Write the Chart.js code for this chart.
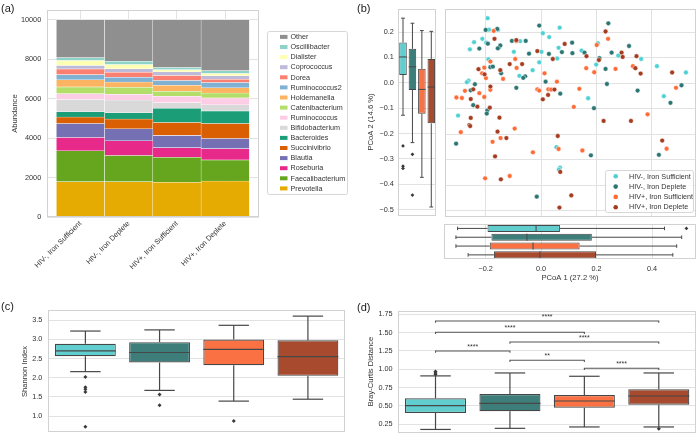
<!DOCTYPE html>
<html>
<head>
<meta charset="utf-8">
<script src="https://cdn.jsdelivr.net/npm/chart.js@4.4.1/dist/chart.umd.min.js"></script>
<style>
  html, body { margin:0; padding:0; background:#ffffff; }
  #fig { position:relative; width:700px; height:446px; overflow:hidden; background:#fff; }
  #fig canvas { position:absolute; }
  .pl { position:absolute; font-family:'Liberation Sans', Arial, sans-serif; font-size:11px; line-height:11px; color:#1a1a1a; }
</style>
</head>
<body>
<div id="fig">
  <canvas id="cA" width="350" height="300" style="left:0px;top:0px;width:350px;height:300px"></canvas>
  <canvas id="cBL" width="85" height="225" style="left:355px;top:0px;width:85px;height:225px"></canvas>
  <canvas id="cBM" width="260" height="225" style="left:440px;top:0px;width:260px;height:225px"></canvas>
  <canvas id="cBB" width="260" height="70" style="left:440px;top:220px;width:260px;height:70px"></canvas>
  <canvas id="cC" width="350" height="146" style="left:0px;top:300px;width:350px;height:146px"></canvas>
  <canvas id="cD" width="350" height="146" style="left:350px;top:300px;width:350px;height:146px"></canvas>
  <div class="pl" style="left:1px;top:3px">(a)</div>
  <div class="pl" style="left:357px;top:3px">(b)</div>
  <div class="pl" style="left:1px;top:301px">(c)</div>
  <div class="pl" style="left:357px;top:302px">(d)</div>
</div>
<script>
// ---------------- DATA ----------------
const groups = ['HIV-, Iron Sufficient', 'HIV-, Iron Deplete', 'HIV+, Iron Sufficient', 'HIV+, Iron Deplete'];

// (a) stacked abundance
const taxa = ['Prevotella','Faecalibacterium','Roseburia','Blautia','Succinivibrio','Bacteroides','Bifidobacterium','Ruminococcus','Catenibacterium','Holdemanella','Ruminococcus2','Dorea','Coprococcus','Dialister','Oscillibacter','Other'];
const taxaColors = ['#e6ab02','#66a61e','#e7298a','#7570b3','#d95f02','#1b9e77','#d9d9d9','#fccde5','#b3de69','#fdb462','#80b1d3','#fb8072','#bebada','#ffffb3','#8dd3c7','#8f8f8f'];
const abundNegSuff = [1800,1565,670,710,330,260,620,300,340,360,260,290,170,260,140,1925];
const abundNegDepl = [1800,1320,750,610,490,320,640,300,350,260,250,250,170,220,160,2110];
const abundPosSuff = [1770,1260,490,620,650,720,290,330,250,300,240,250,190,110,110,2420];
const abundPosDepl = [1830,1070,570,510,760,640,310,350,250,260,270,170,170,110,150,2580];
const abundTicks = [0,2000,4000,6000,8000,10000];

// (b) PCoA scatter
const pcoaNegSuff = [[-0.194,0.255],[-0.156,0.209],[-0.189,0.210],[0.067,0.218],[0.006,0.196],[0.029,0.181],[-0.213,0.174],[-0.076,0.165],[-0.243,0.161],[-0.199,0.159],[-0.258,0.133],[-0.099,0.123],[0.001,0.123],[0.063,0.139],[0.058,0.097],[-0.007,0.082],[-0.191,0.094],[-0.031,0.051],[-0.079,0.029],[-0.263,0.010],[-0.269,0.004],[0.205,0.157],[0.146,0.128],[0.279,0.108],[0.362,0.095],[0.199,0.073],[0.419,0.067],[0.524,0.042],[0.170,-0.059],[0.444,-0.051],[-0.301,-0.127],[0.055,-0.251],[0.068,-0.331],[0.064,-0.339],[-0.152,0.140]];
const pcoaNegDepl = [[-0.159,0.213],[-0.201,0.209],[-0.007,0.226],[-0.106,0.166],[-0.056,0.166],[-0.193,0.155],[-0.148,0.148],[-0.157,0.137],[-0.224,0.136],[-0.044,0.116],[0.028,0.115],[0.075,0.122],[0.112,0.159],[-0.184,0.063],[-0.175,0.065],[-0.145,0.039],[-0.058,0.027],[-0.065,0.021],[0.016,0.006],[-0.240,-0.004],[-0.090,-0.018],[0.069,-0.041],[-0.246,-0.086],[-0.195,-0.107],[-0.197,-0.119],[0.243,0.235],[0.113,0.118],[0.157,0.120],[0.211,0.098],[0.255,0.120],[0.318,0.146],[0.233,0.056],[0.238,-0.003],[0.508,-0.008],[0.349,-0.029],[0.468,-0.077],[0.191,-0.098],[-0.308,-0.237],[-0.016,-0.445],[0.180,-0.283],[0.426,-0.281],[-0.255,-0.028]];
const pcoaPosSuff = [[-0.172,0.205],[-0.090,0.165],[-0.094,0.095],[-0.184,0.085],[-0.089,0.060],[-0.206,0.061],[-0.214,0.039],[-0.200,0.020],[-0.138,0.017],[0.012,0.039],[0.057,0.006],[-0.014,-0.024],[-0.007,-0.029],[0.026,-0.024],[0.036,-0.025],[-0.276,-0.030],[-0.307,-0.056],[-0.287,-0.058],[-0.224,-0.039],[-0.206,-0.054],[-0.184,-0.026],[0.242,0.174],[0.201,0.150],[0.163,0.059],[0.269,0.056],[0.332,0.067],[0.192,0.043],[0.138,-0.022],[0.488,-0.018],[0.118,-0.093],[0.385,-0.122],[-0.291,-0.192],[-0.096,-0.178],[-0.176,-0.230],[-0.147,-0.215],[-0.030,-0.271],[0.063,-0.258],[-0.203,-0.373],[-0.114,-0.364],[0.149,-0.264],[0.454,-0.257]];
const pcoaPosDepl = [[-0.169,0.174],[-0.090,0.169],[-0.014,0.126],[0.085,0.154],[0.042,0.095],[-0.069,0.075],[-0.114,0.075],[-0.227,0.055],[-0.148,0.051],[-0.205,0.035],[0.048,-0.025],[0.025,-0.046],[0.006,-0.063],[-0.246,-0.024],[-0.255,-0.062],[-0.184,-0.013],[-0.231,-0.092],[-0.186,-0.096],[0.233,0.203],[0.164,0.106],[0.209,0.091],[0.291,0.120],[0.295,0.103],[0.345,0.106],[0.341,0.059],[0.360,0.038],[0.474,0.042],[-0.255,-0.136],[-0.151,-0.135],[-0.260,-0.164],[-0.257,-0.168],[-0.158,-0.190],[-0.126,-0.215],[-0.167,-0.287],[0.060,-0.207],[0.069,-0.348],[-0.146,-0.377],[0.109,-0.440],[0.066,-0.488],[0.226,-0.148],[0.325,-0.148],[0.438,-0.225]];
const pcoa1Ticks = [-0.2, 0.0, 0.2, 0.4];
const pcoa2Ticks = [0.2, 0.1, 0.0, -0.1, -0.2, -0.3, -0.4, -0.5];

// (b) marginal box plots
const pc2Low = [-0.128, -0.236, -0.373, -0.490];
const pc2Q1 = [0.031, -0.028, -0.122, -0.160];
const pc2Med = [0.102, 0.063, -0.026, -0.017];
const pc2Q3 = [0.159, 0.134, 0.055, 0.094];
const pc2High = [0.255, 0.235, 0.206, 0.203];
const pc2Out = [[-0.249, -0.329, -0.338], [-0.282, -0.443], [], []];
const pc1Low = [-0.301, -0.307, -0.307, -0.263];
const pc1Q1 = [-0.193, -0.179, -0.185, -0.170];
const pc1Med = [-0.018, -0.051, -0.029, -0.004];
const pc1Q3 = [0.068, 0.183, 0.139, 0.198];
const pc1High = [0.445, 0.507, 0.489, 0.475];
const pc1Out = [[0.524], [], [], []];

// (c) Shannon index
const shLow = [2.16, 1.67, 1.39, 1.44];
const shQ1 = [2.56, 2.40, 2.33, 2.05];
const shMed = [2.70, 2.66, 2.74, 2.55];
const shQ3 = [2.89, 2.93, 3.00, 2.98];
const shHigh = [3.22, 3.25, 3.37, 3.61];
const shOut = [[2.02, 1.75, 1.70, 1.63, 0.72], [1.56, 1.28], [0.87], []];
const shTicks = [1.0, 1.5, 2.0, 2.5, 3.0, 3.5];

// (d) Bray-Curtis distance
const bcLow = [0.180, 0.195, 0.214, 0.214];
const bcQ1 = [0.405, 0.427, 0.477, 0.518];
const bcMed = [0.505, 0.536, 0.568, 0.636];
const bcQ3 = [0.605, 0.664, 0.650, 0.727];
const bcHigh = [0.910, 0.950, 0.905, 0.950];
const bcOut = [[0.93, 0.95, 0.97], [], [], [0.19]];
const bcTicks = [0.25, 0.50, 0.75, 1.00, 1.25, 1.50, 1.75];
const bcPairs = [[0,1],[1,2],[2,3],[0,2],[1,3],[0,3]];
const bcPairY = [1.250, 1.123, 1.014, 1.505, 1.373, 1.659];
const bcPairLabel = ['****', '**', '****', '****', '****', '****'];

// ---------------- STYLE ----------------
const FONT = "'Liberation Sans', Arial, Helvetica, sans-serif";
const TXT = '#333333';
const GRID = '#e2e2e2';
const FRAME = '#d2d2d2';
const EDGE = '#474747';
const pointColors = ['#4fd0d3', '#2b7572', '#ff6b36', '#a53c1f'];
const boxColors = ['#60cdcf', '#3d7e7b', '#fa7244', '#a84a2e'];

Chart.defaults.font.family = FONT;
Chart.defaults.font.size = 7.3;
Chart.defaults.color = TXT;
Chart.defaults.animation = false;
Chart.defaults.plugins.legend.display = false;
Chart.defaults.plugins.tooltip.enabled = false;

const fmt = (v, d) => v.toFixed(d).replace('-', '\u2212');
const setTicks = vals => (s => { s.ticks = vals.map(v => ({ value: v })); });
const TITLE_FONT = { family: FONT, size: 7.6 };

const framePlugin = {
  id: 'frame',
  afterDraw(chart) {
    const a = chart.chartArea, ctx = chart.ctx;
    ctx.save();
    ctx.strokeStyle = FRAME; ctx.lineWidth = 1;
    ctx.strokeRect(Math.round(a.left) + 0.5, Math.round(a.top) + 0.5, Math.round(a.right - a.left) - 1, Math.round(a.bottom - a.top) - 1);
    ctx.restore();
  }
};

function boxWhiskers(lo, med, q1, q3, hi, horizontal, frac, lw) {
  return {
    id: 'boxWhiskers',
    afterDatasetsDraw(chart) {
      const ctx = chart.ctx;
      const cs = horizontal ? chart.scales.y : chart.scales.x;
      const vs = horizontal ? chart.scales.x : chart.scales.y;
      const halfBox = Math.abs(cs.getPixelForValue(frac / 2) - cs.getPixelForValue(0));
      const halfCap = halfBox / 2;
      ctx.save();
      ctx.strokeStyle = EDGE; ctx.lineWidth = lw;
      const seg = (a0, b0, a1, b1) => {
        ctx.beginPath();
        if (horizontal) { ctx.moveTo(b0, a0); ctx.lineTo(b1, a1); }
        else { ctx.moveTo(a0, b0); ctx.lineTo(a1, b1); }
        ctx.stroke();
      };
      for (let i = 0; i < med.length; i++) {
        const c = cs.getPixelForValue(i);
        const pLo = vs.getPixelForValue(lo[i]), pQ1 = vs.getPixelForValue(q1[i]);
        const pMed = vs.getPixelForValue(med[i]), pQ3 = vs.getPixelForValue(q3[i]);
        const pHi = vs.getPixelForValue(hi[i]);
        seg(c, pQ1, c, pLo); seg(c - halfCap, pLo, c + halfCap, pLo);
        seg(c, pQ3, c, pHi); seg(c - halfCap, pHi, c + halfCap, pHi);
        seg(c - halfBox, pMed, c + halfBox, pMed);
      }
      ctx.restore();
    }
  };
}

function boxDataset(q1, q3, horizontal, frac, bw) {
  return {
    type: 'bar',
    data: q1.map((v, i) => horizontal ? { y: i, x: [v, q3[i]] } : { x: i, y: [v, q3[i]] }),
    backgroundColor: boxColors, borderColor: EDGE, borderWidth: bw, borderSkipped: false,
    barPercentage: frac, categoryPercentage: 1, order: 2
  };
}
function outlierDataset(out, horizontal, r) {
  const d = [];
  out.forEach((arr, i) => arr.forEach(v => d.push(horizontal ? { x: v, y: i } : { x: i, y: v })));
  return { type: 'scatter', data: d, pointStyle: 'rectRot', pointRadius: r, backgroundColor: '#3a3a3a', borderColor: '#3a3a3a', borderWidth: 0, order: 1 };
}

// ---------------- (a) ----------------
const abundByGroup = [abundNegSuff, abundNegDepl, abundPosSuff, abundPosDepl];
const legendA = {
  id: 'legendA',
  afterDraw(chart) {
    const ctx = chart.ctx;
    ctx.save();
    ctx.beginPath(); ctx.roundRect(267.5, 31.5, 80, 163, 2);
    ctx.fillStyle = 'rgba(255,255,255,0.9)'; ctx.fill();
    ctx.strokeStyle = '#d6d6d6'; ctx.lineWidth = 1; ctx.stroke();
    const items = chart.data.datasets.slice().reverse();
    ctx.font = '7.2px ' + FONT; ctx.textBaseline = 'middle'; ctx.textAlign = 'left';
    items.forEach((ds, k) => {
      const cy = 36.9 + k * 10.1;
      ctx.fillStyle = ds.backgroundColor; ctx.fillRect(280, cy - 2, 7.5, 4);
      ctx.fillStyle = TXT; ctx.fillText(ds.label, 290.5, cy + 0.3);
    });
    ctx.restore();
  }
};
new Chart(document.getElementById('cA'), {
  type: 'bar',
  data: {
    datasets: taxa.map((t, k) => ({
      label: t,
      data: abundByGroup.map((arr, i) => ({ x: i, y: arr[k] })),
      backgroundColor: taxaColors[k], borderColor: 'rgba(255,255,255,0.85)', borderWidth: 0.5, borderSkipped: false,
      barPercentage: 1, categoryPercentage: 1
    }))
  },
  options: {
    responsive: false,
    layout: { padding: { left: 0, right: 91, top: 9.4, bottom: 0 } },
    scales: {
      x: {
        type: 'linear', min: -0.7, max: 3.7, offset: false, stacked: true,
        grid: { color: GRID, drawTicks: false, offset: false }, border: { display: false },
        afterBuildTicks: setTicks([0, 1, 2, 3]),
        ticks: { callback: v => groups[v], minRotation: 45, maxRotation: 45, padding: 2, autoSkip: false, color: TXT },
        afterFit: s => { s.height = 82.7; }
      },
      y: {
        type: 'linear', min: 0, max: 10500, stacked: true,
        grid: { color: GRID, drawTicks: false }, border: { display: false },
        afterBuildTicks: setTicks(abundTicks),
        ticks: { callback: v => String(v), padding: 5.5, color: TXT },
        title: { display: true, text: 'Abundance', font: TITLE_FONT, color: TXT, padding: { top: 10.6, bottom: 0 } },
        afterFit: s => { s.width = 46.7; }
      }
    }
  },
  plugins: [framePlugin, legendA]
});

// ---------------- (b) left box ----------------
const pc2TitlePlugin = {
  id: 'pc2Title',
  afterDraw(chart) {
    const ctx = chart.ctx;
    ctx.save();
    ctx.translate(15.8, 122);
    ctx.rotate(-Math.PI / 2);
    ctx.font = '7.6px ' + FONT; ctx.fillStyle = TXT; ctx.textAlign = 'center'; ctx.textBaseline = 'middle';
    ctx.fillText('PCoA 2 (14.6 %)', 0, 0);
    ctx.restore();
  }
};
new Chart(document.getElementById('cBL'), {
  type: 'bar',
  data: { datasets: [boxDataset(pc2Q1, pc2Q3, false, 0.8, 1), outlierDataset(pc2Out, false, 1.9)] },
  options: {
    responsive: false,
    layout: { padding: { left: 0, right: 3.5, top: 9.3, bottom: 7.7 } },
    scales: {
      x: { type: 'linear', min: -0.5, max: 3.5, offset: false, display: false, grid: { offset: false } },
      y: {
        type: 'linear', min: -0.526, max: 0.290,
        grid: { color: GRID, drawTicks: false }, border: { display: false },
        afterBuildTicks: setTicks(pcoa2Ticks),
        ticks: { callback: v => fmt(v, 1), padding: 4.5, color: TXT },
        afterFit: s => { s.width = 43.3; }
      }
    }
  },
  plugins: [framePlugin, boxWhiskers(pc2Low, pc2Med, pc2Q1, pc2Q3, pc2High, false, 0.8, 1), pc2TitlePlugin]
});

// ---------------- (b) scatter ----------------
const pcoaSets = [pcoaNegSuff, pcoaNegDepl, pcoaPosSuff, pcoaPosDepl];
const legendB = {
  id: 'legendB',
  afterDraw(chart) {
    const ctx = chart.ctx;
    const ox = -440;
    ctx.save();
    ctx.beginPath(); ctx.roundRect(605.5 + ox, 170.5, 88, 42, 2);
    ctx.fillStyle = 'rgba(255,255,255,0.85)'; ctx.fill();
    ctx.strokeStyle = '#d6d6d6'; ctx.lineWidth = 1; ctx.stroke();
    ctx.font = '7.2px ' + FONT; ctx.textBaseline = 'middle'; ctx.textAlign = 'left';
    chart.data.datasets.forEach((ds, k) => {
      const cy = 176.3 + k * 10.3;
      ctx.beginPath(); ctx.arc(615.7 + ox, cy, 2.3, 0, Math.PI * 2);
      ctx.fillStyle = ds.backgroundColor; ctx.fill();
      ctx.fillStyle = TXT; ctx.fillText(ds.label, 629 + ox, cy + 0.3);
    });
    ctx.restore();
  }
};
new Chart(document.getElementById('cBM'), {
  type: 'scatter',
  data: {
    datasets: pcoaSets.map((arr, k) => ({
      label: groups[k],
      data: arr.map(p => ({ x: p[0], y: p[1] })),
      backgroundColor: pointColors[k], borderColor: '#ffffff', borderWidth: 0.5, pointRadius: 2.4,
      order: 4 - k
    }))
  },
  options: {
    responsive: false,
    layout: { padding: { left: 0, right: 3.3, top: 9.3, bottom: 7.7 } },
    scales: {
      x: {
        type: 'linear', min: -0.35, max: 0.5586,
        grid: { color: GRID, drawTicks: false }, border: { display: false },
        afterBuildTicks: setTicks(pcoa1Ticks),
        ticks: { display: false },
        afterFit: s => { s.height = 0; }
      },
      y: {
        type: 'linear', min: -0.526, max: 0.290,
        grid: { color: GRID, drawTicks: false }, border: { display: false },
        afterBuildTicks: setTicks(pcoa2Ticks),
        ticks: { display: false },
        afterFit: s => { s.width = 2.3; }
      }
    }
  },
  plugins: [framePlugin, legendB]
});

// ---------------- (b) bottom box ----------------
new Chart(document.getElementById('cBB'), {
  type: 'bar',
  data: { datasets: [boxDataset(pc1Q1, pc1Q3, true, 0.8, 1), outlierDataset(pc1Out, true, 1.9)] },
  options: {
    responsive: false, indexAxis: 'y',
    layout: { padding: { left: 0, right: 3.3, top: 4, bottom: 0 } },
    scales: {
      y: { type: 'linear', min: -0.5, max: 3.5, reverse: true, offset: false, grid: { display: false, offset: false }, border: { display: false }, ticks: { display: false }, afterFit: s => { s.width = 2.3; } },
      x: {
        type: 'linear', min: -0.35, max: 0.5586, offset: false,
        grid: { color: GRID, drawTicks: false, offset: false }, border: { display: false },
        afterBuildTicks: setTicks(pcoa1Ticks),
        ticks: { callback: v => fmt(v, 1), padding: 5, color: TXT },
        title: { display: true, text: 'PCoA 1 (27.2 %)', font: TITLE_FONT, color: TXT, padding: { top: 0, bottom: 7.9 } },
        afterFit: s => { s.height = 30.7; }
      }
    }
  },
  plugins: [framePlugin, boxWhiskers(pc1Low, pc1Med, pc1Q1, pc1Q3, pc1High, true, 0.8, 1)]
});

// ---------------- (c) Shannon ----------------
new Chart(document.getElementById('cC'), {
  type: 'bar',
  data: { datasets: [boxDataset(shQ1, shQ3, false, 0.82, 1.2), outlierDataset(shOut, false, 2)] },
  options: {
    responsive: false,
    layout: { padding: { left: 0, right: 5, top: 10, bottom: 0 } },
    scales: {
      x: {
        type: 'linear', min: -0.5, max: 3.5, offset: false,
        grid: { display: false, offset: false }, border: { display: false },
        afterBuildTicks: setTicks([0, 1, 2, 3]),
        ticks: { callback: v => groups[v], padding: 4, maxRotation: 0, minRotation: 0, autoSkip: false, color: TXT },
        afterFit: s => { s.height = 13.3; }
      },
      y: {
        type: 'linear', min: 0.565, max: 3.76,
        grid: { color: GRID, drawTicks: false }, border: { display: false },
        afterBuildTicks: setTicks(shTicks),
        ticks: { callback: v => fmt(v, 1), padding: 6, color: TXT },
        title: { display: true, text: 'Shannon Index', font: TITLE_FONT, color: TXT, padding: { top: 20.6, bottom: 0 } },
        afterFit: s => { s.width = 48.3; }
      }
    }
  },
  plugins: [framePlugin, boxWhiskers(shLow, shMed, shQ1, shQ3, shHigh, false, 0.82, 1.2)]
});

// ---------------- (d) Bray-Curtis ----------------
const bracketPlugin = {
  id: 'brackets',
  afterDatasetsDraw(chart) {
    const ctx = chart.ctx, xs = chart.scales.x, ys = chart.scales.y;
    ctx.save();
    ctx.strokeStyle = '#555555'; ctx.lineWidth = 1.1;
    ctx.fillStyle = '#333333'; ctx.font = '7px ' + FONT; ctx.textAlign = 'center'; ctx.textBaseline = 'bottom';
    bcPairs.forEach((p, k) => {
      const x1 = xs.getPixelForValue(p[0]), x2 = xs.getPixelForValue(p[1]);
      const y = ys.getPixelForValue(bcPairY[k]), yd = ys.getPixelForValue(bcPairY[k] - 0.025);
      ctx.beginPath(); ctx.moveTo(x1, yd); ctx.lineTo(x1, y); ctx.lineTo(x2, y); ctx.lineTo(x2, yd); ctx.stroke();
      ctx.fillText(bcPairLabel[k], (x1 + x2) / 2, y - 0.5);
    });
    ctx.restore();
  }
};
new Chart(document.getElementById('cD'), {
  type: 'bar',
  data: { datasets: [boxDataset(bcQ1, bcQ3, false, 0.82, 1.2), outlierDataset(bcOut, false, 2)] },
  options: {
    responsive: false,
    layout: { padding: { left: 0, right: 1.7, top: 10.7, bottom: 0 } },
    scales: {
      x: {
        type: 'linear', min: -0.5, max: 3.5, offset: false,
        grid: { display: false, offset: false }, border: { display: false },
        afterBuildTicks: setTicks([0, 1, 2, 3]),
        ticks: { callback: v => groups[v], padding: 4, maxRotation: 0, minRotation: 0, autoSkip: false, color: TXT },
        afterFit: s => { s.height = 13.7; }
      },
      y: {
        type: 'linear', min: 0.141, max: 1.799,
        grid: { color: GRID, drawTicks: false }, border: { display: false },
        afterBuildTicks: setTicks(bcTicks),
        ticks: { callback: v => fmt(v, 2), padding: 5.7, color: TXT },
        title: { display: true, text: 'Bray-Curtis Distance', font: TITLE_FONT, color: TXT, padding: { top: 16.3, bottom: 0 } },
        afterFit: s => { s.width = 48.3; }
      }
    }
  },
  plugins: [framePlugin, boxWhiskers(bcLow, bcMed, bcQ1, bcQ3, bcHigh, false, 0.82, 1.2), bracketPlugin]
});
</script>
</body>
</html>
